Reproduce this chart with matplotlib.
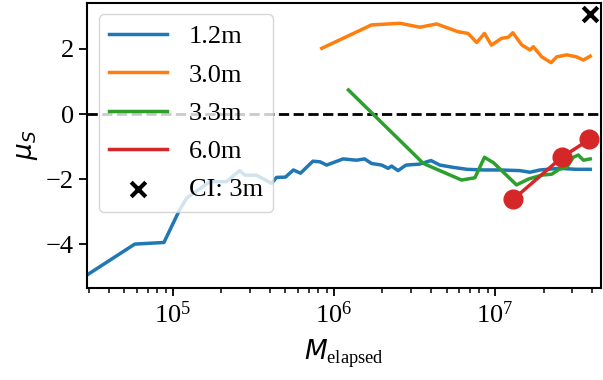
import numpy as np
import matplotlib
matplotlib.use("Agg")
import matplotlib.pyplot as plt

plt.rcParams["font.family"] = ["Liberation Serif", "DejaVu Serif"]
plt.rcParams["font.size"] = 19
plt.rcParams["mathtext.fontset"] = "dejavusans"

# 1.2m
blue_x = [2.93e4, 5.8e4, 8.8e4, 1.1e5, 1.22e5, 1.7e5, 2.15e5, 2.6e5, 2.8e5, 3.3e5,
          4.1e5, 4.4e5, 5.0e5, 5.6e5, 6.2e5, 7.4e5, 8.2e5, 9.0e5, 1.14e6, 1.38e6,
          1.55e6, 1.71e6, 1.98e6, 2.17e6, 2.28e6, 2.5e6, 2.8e6, 3.4e6, 4.0e6, 4.55e6,
          5.5e6, 6.7e6, 8.5e6, 1.07e7, 1.43e7, 1.65e7, 1.9e7, 2.5e7, 3.2e7, 3.9e7]
blue_y = [-4.95, -4.0, -3.95, -2.95, -2.58, -2.08, -2.08, -1.74, -1.88, -1.88,
          -2.13, -1.95, -1.94, -1.72, -1.82, -1.45, -1.47, -1.57, -1.38, -1.42,
          -1.38, -1.52, -1.57, -1.67, -1.6, -1.74, -1.57, -1.54, -1.43, -1.57,
          -1.64, -1.7, -1.72, -1.72, -1.74, -1.79, -1.72, -1.67, -1.70, -1.70]

# 3.0m
orange_x = [8.4e5, 1.71e6, 2.57e6, 3.42e6, 4.34e6, 5.9e6, 6.8e6, 7.7e6, 8.6e6, 9.5e6,
            1.1e7, 1.21e7, 1.29e7, 1.47e7, 1.65e7, 1.73e7, 1.95e7, 2.23e7, 2.42e7,
            2.79e7, 3.2e7, 3.54e7, 3.9e7]
orange_y = [2.02, 2.74, 2.79, 2.67, 2.77, 2.53, 2.48, 2.2, 2.48, 2.12,
            2.33, 2.36, 2.5, 2.12, 1.97, 2.07, 1.76, 1.58, 1.76,
            1.82, 1.76, 1.66, 1.78]

# 3.3m
green_x = [1.23e6, 3.59e6, 6.2e6, 7.5e6, 8.6e6, 9.8e6, 1.36e7, 1.61e7, 1.95e7, 2.25e7,
           2.5e7, 2.79e7, 3.06e7, 3.29e7, 3.54e7, 3.9e7]
green_y = [0.74, -1.52, -2.03, -1.96, -1.33, -1.5, -2.18, -2.0, -1.88, -1.85,
           -1.7, -1.64, -1.33, -1.26, -1.42, -1.38]

# 6.0m
red_x = [1.3e7, 2.6e7, 3.86e7]
red_y = [-2.62, -1.33, -0.78]

# CI: 3m
ci_x = [3.9e7]
ci_y = [3.08]

fig = plt.figure(figsize=(6.03, 3.8), dpi=100)
ax = fig.add_axes([87 / 603, 1 - 288 / 380, 514 / 603, 285.5 / 380])

ax.axhline(0, color="k", linestyle="--", linewidth=2)
ax.plot(blue_x, blue_y, color="tab:blue", linewidth=2.5, label="1.2m")
ax.plot(orange_x, orange_y, color="tab:orange", linewidth=2.5, label="3.0m")
ax.plot(green_x, green_y, color="tab:green", linewidth=2.5, label="3.3m")
ax.plot(red_x, red_y, color="tab:red", linewidth=2.5, label="6.0m")
ax.plot(red_x, red_y, color="tab:red", linestyle="none", marker="o", markersize=13.5)
ax.scatter(ci_x, ci_y, color="k", marker="x", s=110, linewidths=3, label="CI: 3m",
           zorder=5)

ax.set_xscale("log")
ax.set_xlim(2.93e4, 4.55e7)
ax.set_ylim(-5.35, 3.43)
ax.set_yticks([-4, -2, 0, 2])
ax.set_xlabel(r"$M_{\mathdefault{elapsed}}$", labelpad=7)
ax.set_ylabel(r"$\mu_S$")
ax.tick_params(which="major", width=1.3, length=6)
ax.tick_params(which="minor", width=1.1, length=3.8)
for s in ax.spines.values():
    s.set_linewidth(1.5)

ax.legend(loc="upper left", handlelength=2.2, borderaxespad=0.45, labelspacing=0.56)

fig.savefig("out.png", dpi=100)
